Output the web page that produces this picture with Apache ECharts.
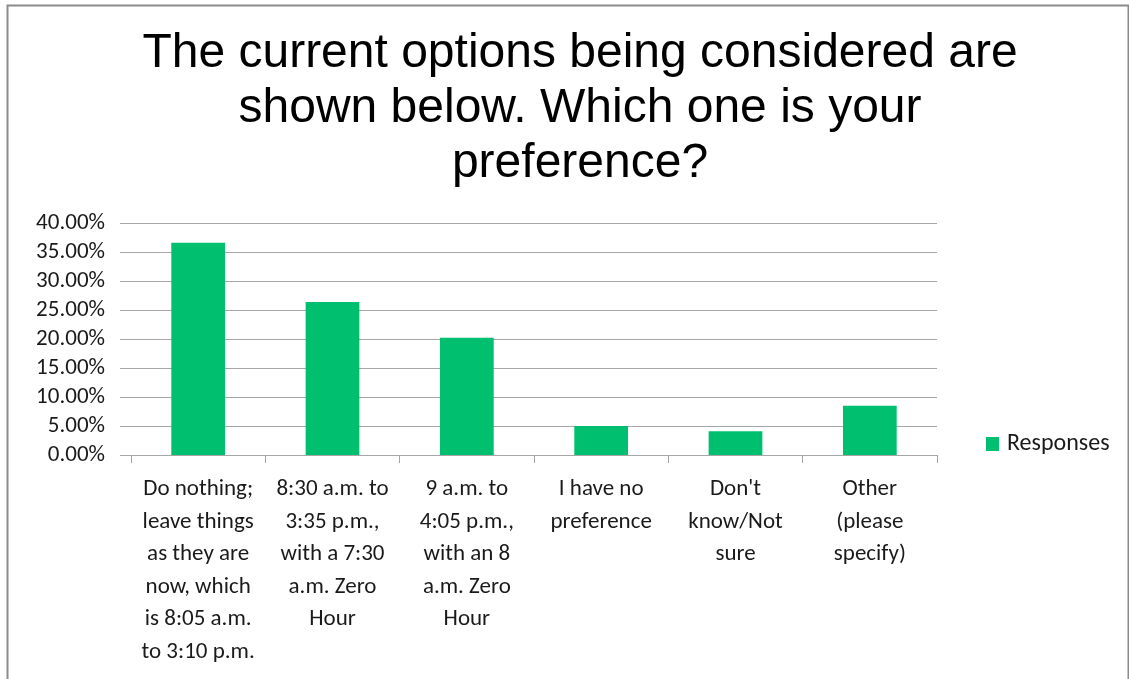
<!DOCTYPE html>
<html>
<head>
<meta charset="utf-8">
<script src="https://cdn.jsdelivr.net/npm/echarts@6/dist/echarts.min.js"></script>
<style>
html,body{margin:0;padding:0;background:#fff;}
#chart{width:1129px;height:679px;}
</style>
</head>
<body>
<div id="chart"></div>
<script>
var titleText = "The current options being considered are\nshown below. Which one is your\npreference?";
var categories = [
  "Do nothing;\nleave things\nas they are\nnow, which\nis 8:05 a.m.\nto 3:10 p.m.",
  "8:30 a.m. to\n3:35 p.m.,\nwith a 7:30\na.m. Zero\nHour",
  "9 a.m. to\n4:05 p.m.,\nwith an 8\na.m. Zero\nHour",
  "I have no\npreference",
  "Don't\nknow/Not\nsure",
  "Other\n(please\nspecify)"
];
var seriesName = "Responses";
var values = [36.6, 26.4, 20.2, 5.0, 4.1, 8.5];
var yMin = 0, yMax = 40, yStep = 5;

var labelFont = 'Carlito, Calibri, Lato, sans-serif';
var chart = echarts.init(document.getElementById('chart'), null, {renderer: 'canvas'});
chart.setOption({
  animation: false,
  backgroundColor: '#fff',
  graphic: [{
    type: 'rect', left: 5, top: 3, silent: true,
    shape: {x: 0, y: 0, width: 1121, height: 700},
    style: {fill: 'none', stroke: '#8c8c8c', lineWidth: 2}
  }],
  title: {
    text: titleText, left: 575, top: 21, textAlign: 'center',
    textStyle: {fontFamily: '"Liberation Sans", Arial, sans-serif', fontSize: 48, fontWeight: 'normal', color: '#000', lineHeight: 55}
  },
  legend: {
    data: [seriesName], left: 981, top: 427, icon: 'rect', itemWidth: 13, itemHeight: 14, itemGap: 8,
    textStyle: {fontFamily: labelFont, fontSize: 24, color: '#1a1a1a', padding: [0, 0, 0, 3]}
  },
  grid: {left: 131, right: 192, top: 223, bottom: 224, containLabel: false},
  xAxis: {
    type: 'category', data: categories, boundaryGap: true,
    axisLine: {show: true, lineStyle: {color: '#a6a6a6', width: 1}},
    axisTick: {show: true, alignWithLabel: false, length: 8, lineStyle: {color: '#a6a6a6'}},
    axisLabel: {interval: 0, margin: 18, fontFamily: labelFont, fontSize: 23, color: '#1a1a1a', lineHeight: 32.5, align: 'center'}
  },
  yAxis: {
    type: 'value', min: yMin, max: yMax, interval: yStep,
    axisLine: {show: false},
    axisTick: {show: true, length: 11, lineStyle: {color: '#a6a6a6'}},
    splitLine: {show: true, lineStyle: {color: '#a6a6a6', width: 1}},
    axisLabel: {margin: 26, fontFamily: labelFont, fontSize: 23, color: '#1a1a1a',
      formatter: function(v){ return v.toFixed(2) + '%'; }}
  },
  series: [{
    name: seriesName, type: 'bar', data: values, barWidth: '40%',
    itemStyle: {color: '#00BF6F'}
  }]
});
</script>
</body>
</html>
